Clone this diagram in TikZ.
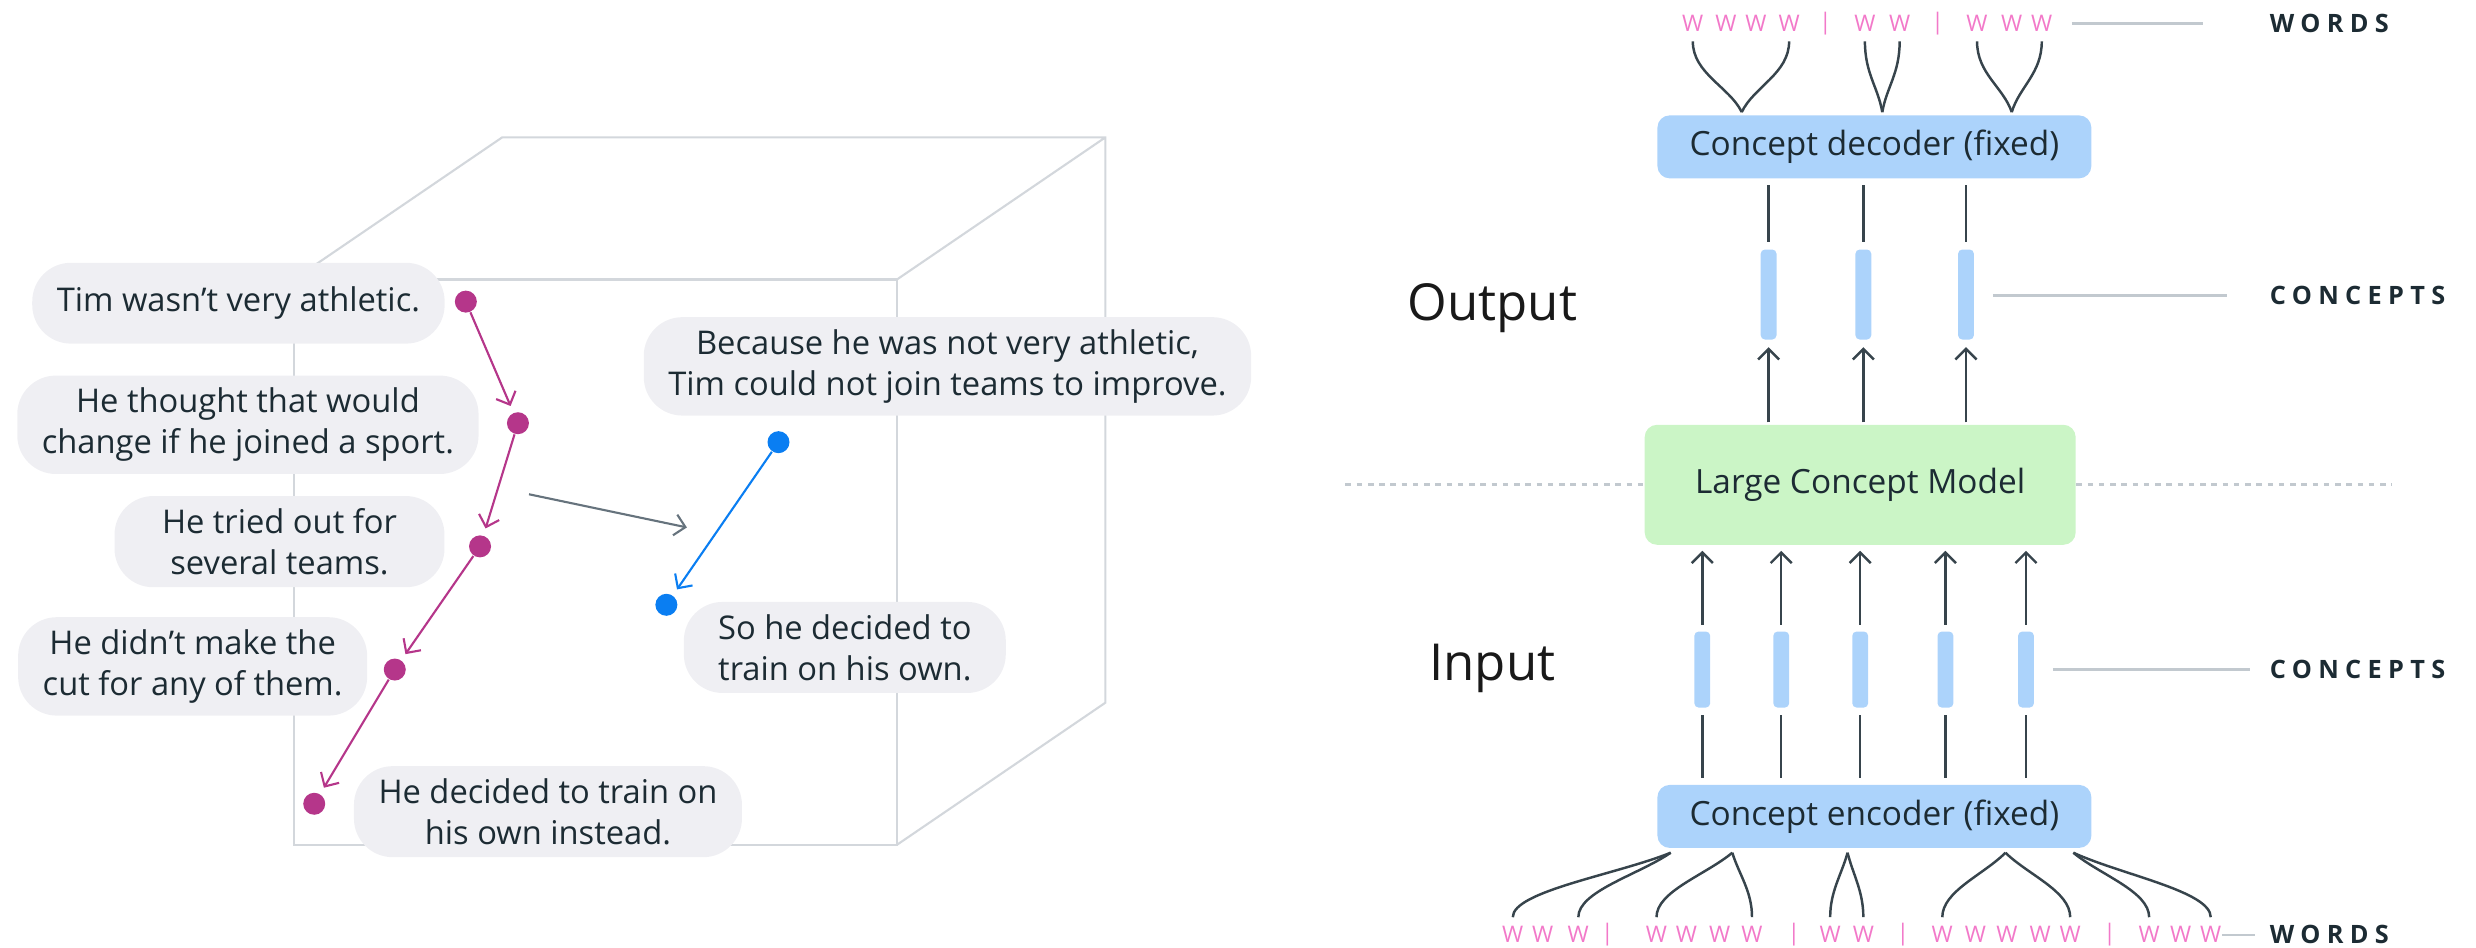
\documentclass[tikz,border=0pt]{standalone}
\usepackage{fontspec}
\setmainfont{Open Sans}
\newfontfamily\tagfont[LetterSpace=25]{Open Sans}
\usetikzlibrary{arrows.meta,calc}

\definecolor{ink}{HTML}{1C2B33}
\definecolor{bubblegray}{HTML}{EFEFF3}
\definecolor{cubegray}{HTML}{D3D7DC}
\definecolor{plum}{HTML}{B5368A}
\definecolor{skyblue}{HTML}{0A7EF2}
\definecolor{conceptblue}{HTML}{ACD3FB}
\definecolor{modelgreen}{HTML}{CBF5C6}
\definecolor{wordpink}{HTML}{F279C9}
\definecolor{rulegray}{HTML}{C2C9CF}
\definecolor{linkgray}{HTML}{37444C}
\definecolor{arrowgray}{HTML}{66737D}

\tikzset{
  bubble/.style={fill=bubblegray, rounded corners=11pt, align=center, inner xsep=7pt, inner ysep=3.5pt,
    minimum height=23pt, text=ink, font=\fontsize{9.3}{11.7}\selectfont},
  storydot/.style={circle, fill=#1, inner sep=0pt, minimum size=0.22cm},
  walk/.style={draw=#1, line width=0.6pt, -{Straight Barb[length=3pt,width=6pt]}, shorten >=2pt},
  block/.style={fill=#1, rounded corners=3.5pt, minimum width=4.34cm, text=ink, font=\fontsize{9.5}{11}\selectfont},
  conceptbar/.style={fill=conceptblue, rounded corners=1.2pt, minimum width=0.158cm, inner sep=0pt},
  link/.style={draw=linkgray, line width=0.7pt},
  uplink/.style={link, -{Straight Barb[length=3pt,width=6pt]}},
  word/.style={text=wordpink, font=\fontsize{6.5}{7}\selectfont, inner sep=0pt},
  sidetag/.style={text=ink, font=\tagfont\bfseries\fontsize{7.2}{8}\selectfont, anchor=west, inner sep=0pt},
  stage/.style={text=black!90, font=\fontsize{14.5}{16}\selectfont},
}

\begin{document}
\begin{tikzpicture}[x=0.015791cm, y=-0.015791cm]
\useasboundingbox (0,0) rectangle (1568,600);

\draw[cubegray, line width=0.6pt] (186,177) rectangle (568,535);
\draw[cubegray, line width=0.6pt] (186,177) -- (318,87) -- (700,87) -- (700,445) -- (568,535) (700,87) -- (568,177);

\node[bubble] (s1) at (151,192) {Tim wasn’t very athletic.};
\node[bubble] (s2) at (157,269) {He thought that would\\change if he joined a sport.};
\node[bubble, minimum width=3.3cm] (s3) at (177,343) {He tried out for\\several teams.};
\node[bubble] (s4) at (122,422) {He didn’t make the\\cut for any of them.};
\node[bubble] (s5) at (347,514) {He decided to train on\\his own instead.};
\node[bubble] (r1) at (600,232) {Because he was not very athletic,\\Tim could not join teams to improve.};
\node[bubble, minimum width=3.22cm] (r2) at (535,410) {So he decided to\\train on his own.};

\foreach \n/\p in {1/{295,191},2/{328,268},3/{304,346},4/{250,424},5/{199,509}}
  \node[storydot=plum] (p\n) at (\p) {};
\foreach \a/\b in {1/2,2/3,3/4,4/5}
  \draw[walk=plum] (p\a) -- (p\b);
\node[storydot=skyblue] (q1) at (493,280) {};
\node[storydot=skyblue] (q2) at (422,383) {};
\draw[walk=skyblue] (q1) -- (q2);
\coordinate (shiftA) at (335,313);
\coordinate (shiftB) at (435,334);
\draw[walk=arrowgray, shorten >=0pt] (shiftA) -- (shiftB);

\node[block=conceptblue, minimum height=0.63cm] (dec) at (1187,93) {Concept decoder (fixed)};
\node[block=modelgreen, minimum width=4.31cm, minimum height=1.2cm] (lcm) at (1178,307) {Large Concept Model};
\node[block=conceptblue, minimum height=0.63cm] (enc) at (1187,517) {Concept encoder (fixed)};

\node[stage] (outlbl) at (945,195) {Output};
\node[stage] (inlbl) at (945,423) {Input};

\coordinate (divL) at (852,307);
\coordinate (divR) at (1515,307);
\draw[rulegray, line width=0.8pt, dash pattern=on 1.6pt off 1.6pt] (divL) -- (lcm.west);
\draw[rulegray, line width=0.8pt, dash pattern=on 1.6pt off 1.6pt] (lcm.east) -- (divR);

\foreach \i/\x in {1/1120,2/1180,3/1245} {
  \node[conceptbar, minimum height=0.9cm] (oc\i) at (\x,186.5) {};
  \draw[link, shorten <=1.8pt, shorten >=1.8pt] (dec.south -| oc\i) -- (oc\i.north);
  \draw[uplink, shorten <=0.5pt, shorten >=2pt] (lcm.north -| oc\i) -- (oc\i.south);
}
\foreach \i/\x in {1/1078,2/1128,3/1178,4/1232,5/1283} {
  \node[conceptbar, minimum height=0.76cm] (ic\i) at (\x,424) {};
  \draw[link, shorten <=1.8pt, shorten >=1.8pt] (enc.north -| ic\i) -- (ic\i.south);
  \draw[uplink, shorten <=1.8pt, shorten >=1.5pt] (ic\i.north) -- (lcm.south -| ic\i);
}

\foreach \x/\c [count=\k] in {1072/W,1093/W,1112/W,1133/W,1156/|,1181/W,1203/W,1227/|,1252/W,1274/W,1293/W}
  \node[word] (tw\k) at (\x,15) {\c};
\foreach \x/\c [count=\k] in {958/W,977/W,999.5/W,1018/|,1049/W,1068/W,1089/W,1109.5/W,1136/|,1159/W,1180/W,
    1205/|,1230/W,1251/W,1271/W,1292/W,1311/W,1336/|,1361/W,1381/W,1400/W}
  \node[word] (bw\k) at (\x,592) {\c};

\coordinate (tm1) at (1103,71);
\coordinate (tm2) at (1192,71);
\coordinate (tm3) at (1274,71);
\foreach \w/\m in {tw1/tm1,tw4/tm1,tw6/tm2,tw7/tm2,tw9/tm3,tw11/tm3}
  \draw[link, shorten <=2.5pt] (\w.south) .. controls +(0,26) and ($(\m)!0.25!(\m -| \w)+(0,-16)$) .. (\m);

\coordinate (bm1) at (1058,540);
\coordinate (bm2) at (1097,540);
\coordinate (bm3) at (1170,540);
\coordinate (bm4) at (1270,540);
\coordinate (bm5) at (1313,540);
\foreach \w/\m in {bw1/bm1,bw3/bm1,bw5/bm2,bw8/bm2,bw10/bm3,bw11/bm3,bw13/bm4,bw17/bm4,bw19/bm5,bw21/bm5}
  \draw[link, shorten >=2.5pt] (\m) .. controls ($(\m)!0.35!(\m -| \w)+(0,14)$) and +(0,-22) .. (\w.north);

\node[sidetag] (wordtop) at (1437,15) {WORDS};
\node[sidetag] (conctop) at (1437,187) {CONCEPTS};
\node[sidetag] (concbot) at (1437,424) {CONCEPTS};
\node[sidetag] (wordbot) at (1437,592) {WORDS};
\coordinate (rw1) at (1312,15);   \coordinate (rw2) at (1395,15);
\coordinate (rc1) at (1262,187);  \coordinate (rc2) at (1410,187);
\coordinate (rc3) at (1300,424);  \coordinate (rc4) at (1425,424);
\coordinate (rw3) at (1407,592);  \coordinate (rw4) at (1428,592);
\draw[rulegray, line width=0.7pt] (rw1) -- (rw2) (rc1) -- (rc2) (rc3) -- (rc4) (rw3) -- (rw4);
\end{tikzpicture}
\end{document}
